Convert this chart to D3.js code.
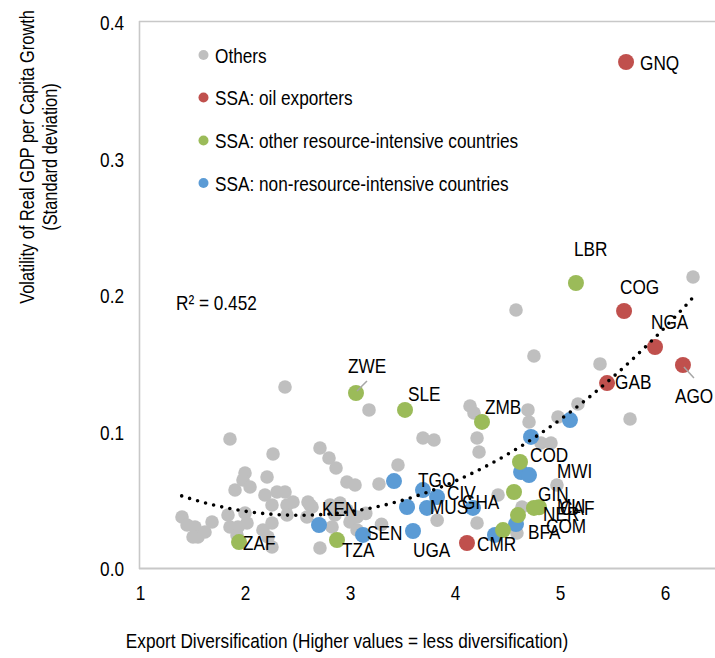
<!DOCTYPE html>
<html>
<head>
<meta charset="utf-8">
<script src="https://cdn.jsdelivr.net/npm/d3@7/dist/d3.min.js"></script>
<style>
  html, body { margin: 0; padding: 0; background: #ffffff; }
  svg { display: block; }
  text { font-family: "Liberation Sans", Arial, sans-serif; fill: #000; }
</style>
</head>
<body>
<svg id="chart" width="715" height="658"></svg>
<script>
// ---------------- DATA ----------------
const xTicks = [1, 2, 3, 4, 5, 6];
const yTicks = [0.0, 0.1, 0.2, 0.3, 0.4];
const xTitle = "Export Diversification (Higher values = less diversification)";
const yTitle1 = "Volatility of Real GDP per Capita Growth";
const yTitle2 = "(Standard deviation)";
const legendLabels = ["Others", "SSA: oil exporters", "SSA: other resource-intensive countries", "SSA: non-resource-intensive countries"];
const r2Label = "R\u00B2 = 0.452";
// polynomial trend (order 2): y = a x^2 + b x + c, drawn from xmin to xmax
const trendCoef = [0.01134, -0.05706, 0.1104];
const trendRange = [1.397, 6.264];

const othersX = [2.381,3.181,1.857,2.267,2.714,2.800,2.867,4.581,4.752,5.381,6.267,5.667,5.171,4.981,4.143,4.181,3.695,3.800,4.210,4.229,
  4.695,4.705,4.914,4.819,3.457,2.971,3.048,3.276,2.000,1.981,1.905,2.048,2.210,2.190,2.305,2.381,2.257,2.400,2.619,2.810,
  1.400,1.448,1.524,1.552,1.619,1.686,1.505,1.838,1.857,1.933,2.000,2.019,1.924,2.171,2.257,2.219,2.257,2.400,2.457,2.600,
  2.638,2.905,2.971,3.067,3.000,2.857,2.590,2.829,2.714,3.067,4.410,4.210,4.638,4.590,4.971,3.830,3.300,3.150];
const othersY = [0.1326,0.1158,0.0945,0.0835,0.0879,0.0806,0.0733,0.1890,0.1553,0.1495,0.2132,0.1092,0.1201,0.1106,0.1187,0.1136,0.0952,0.0938,0.0952,0.0850,
  0.1158,0.1070,0.0916,0.0916,0.0755,0.0630,0.0608,0.0615,0.0696,0.0645,0.0571,0.0593,0.0667,0.0535,0.0557,0.0557,0.0462,0.0462,0.0462,0.0462,
  0.0374,0.0315,0.0300,0.0227,0.0264,0.0337,0.0227,0.0388,0.0300,0.0300,0.0403,0.0330,0.0242,0.0278,0.0330,0.0227,0.0154,0.0388,0.0484,0.0484,
  0.0447,0.0476,0.0425,0.0374,0.0337,0.0388,0.0374,0.0300,0.0147,0.0278,0.0535,0.0330,0.0447,0.0256,0.0608,0.0350,0.0320,0.0400];

const oilCodes = ["GNQ","COG","NGA","AGO","GAB","CMR"];
const oilX = [5.629,5.610,5.905,6.171,5.448,4.114];
const oilY = [0.3707,0.1883,0.1619,0.1487,0.1355,0.0183];

const resCodes = ["LBR","ZWE","SLE","ZMB","COD","GIN","CAF","MLI","NER","BFA","ZAF","TZA"];
const resX = [5.152,3.057,3.524,4.257,4.619,4.562,4.800,4.752,4.600,4.457,1.943,2.876];
const resY = [0.2088,0.1282,0.1158,0.1070,0.0777,0.0557,0.0445,0.0440,0.0388,0.0278,0.0190,0.0205];

const nonCodes = ["KEN","SEN","UGA","TGO","CIV","GHA","MUS","","","","","","MWI","COM",""];
const nonX = [2.705,3.124,3.600,3.419,3.695,3.829,3.543,3.733,4.171,4.724,5.095,4.629,4.705,4.581,4.381];
const nonY = [0.0315,0.0242,0.0271,0.0637,0.0571,0.0520,0.0447,0.0440,0.0440,0.0960,0.1084,0.0703,0.0681,0.0322,0.0242];

// ---------------- LAYOUT ----------------
const W = 715, H = 658;
const COLORS = { others: "#bfbfbf", oil: "#c0504d", res: "#9bbb59", non: "#5b9bd5" };
const NARROW = 0.82;          // horizontal squeeze to mimic a narrow face
const FS = 21;
// label placement (dx, dy from marker centre to text start / baseline)
const labelPos = {
  GNQ:[14,8], LBR:[-2,-27], COG:[-4,-17], NGA:[-4,-18], AGO:[-8,38], GAB:[8,6],
  ZWE:[-8,-20], SLE:[3,-9], ZMB:[3,-8], COD:[10,0], GIN:[24,9], CAF:[21,8], MLI:[23,5], NER:[25,6],
  BFA:[25,9], ZAF:[4,8], TZA:[5,17], CMR:[10,8],
  KEN:[3,-9], SEN:[4,5], UGA:[0,26], TGO:[24,6], CIV:[24,10], GHA:[25,12], MUS:[23,7],
  MWI:[28,3], COM:[30,9]
};
const leaders = { AGO:[[1,2],[11,13]], ZWE:[[1,-2],[11,-12]] };

const svg = d3.select("#chart");
const x = d3.scaleLinear().domain([1, 7]).range([140, 770]);
const y = d3.scaleLinear().domain([0, 0.4]).range([568, 22]);

function ntext(g, px, py, s, size, anchor, rot) {
  return g.append("text")
    .attr("transform", `translate(${px},${py})` + (rot ? ` rotate(${rot})` : "") + ` scale(${NARROW},1)`)
    .attr("text-anchor", anchor || "start")
    .style("font-size", size + "px")
    .text(s);
}

// frame
svg.append("line").attr("x1", 139.5).attr("x2", 139.5).attr("y1", 21).attr("y2", 569)
  .attr("stroke", "#c8c8c8").attr("stroke-width", 1.6);
svg.append("line").attr("x1", 139).attr("x2", W).attr("y1", 21.5).attr("y2", 21.5)
  .attr("stroke", "#c8c8c8").attr("stroke-width", 1.6);
svg.append("line").attr("x1", 139).attr("x2", W).attr("y1", 568.5).attr("y2", 568.5)
  .attr("stroke", "#c8c8c8").attr("stroke-width", 2);

// axes
const gx = svg.append("g").attr("transform", "translate(0,568)")
  .call(d3.axisBottom(x).tickValues(xTicks).tickSize(0).tickPadding(0).tickFormat(d3.format("d")));
gx.select(".domain").remove();
gx.selectAll(".tick text").attr("y", 0).attr("dy", null)
  .attr("transform", `translate(0,32) scale(${NARROW},1)`)
  .style("font-size", FS + "px").style("font-family", "Liberation Sans, Arial, sans-serif").attr("fill", "#000");

const gy = svg.append("g").attr("transform", "translate(140,0)")
  .call(d3.axisLeft(y).tickValues(yTicks).tickSize(0).tickPadding(0).tickFormat(d3.format(".1f")));
gy.select(".domain").remove();
gy.selectAll(".tick text").attr("x", 0).attr("dy", null).attr("y", 0)
  .attr("transform", `translate(-16,7.5) scale(${NARROW},1)`)
  .style("font-size", FS + "px").style("font-family", "Liberation Sans, Arial, sans-serif").attr("fill", "#000");

// titles
ntext(svg, 347, 648, xTitle, 21, "middle");
ntext(svg, 34, 157, yTitle1, 20, "middle", -90);
ntext(svg, 57, 157, yTitle2, 20, "middle", -90);

// points
const gOthers = svg.append("g");
gOthers.selectAll("circle").data(d3.range(othersX.length)).join("circle")
  .attr("cx", i => x(othersX[i])).attr("cy", i => y(othersY[i])).attr("r", 6.8)
  .attr("fill", COLORS.others);

function series(codes, xs, ys, color) {
  const g = svg.append("g");
  g.selectAll("circle").data(d3.range(xs.length)).join("circle")
    .attr("cx", i => x(xs[i])).attr("cy", i => y(ys[i])).attr("r", 8)
    .attr("fill", color);
  return codes.map((c, i) => ({ code: c, px: x(xs[i]), py: y(ys[i]) }));
}
const labelled = [].concat(
  series(nonCodes, nonX, nonY, COLORS.non),
  series(resCodes, resX, resY, COLORS.res),
  series(oilCodes, oilX, oilY, COLORS.oil)
);

// trend line
const tx = d3.range(0, 101).map(k => trendRange[0] + (trendRange[1] - trendRange[0]) * k / 100);
const trend = d3.line().x(v => x(v)).y(v => y(trendCoef[0] * v * v + trendCoef[1] * v + trendCoef[2]));
svg.append("path").attr("d", trend(tx)).attr("fill", "none").attr("stroke", "#000")
  .attr("stroke-width", 3.6).attr("stroke-linecap", "round").attr("stroke-dasharray", "0 8.3");

// leader lines and labels
const gl = svg.append("g");
labelled.forEach(d => {
  if (!d.code) return;
  if (leaders[d.code]) {
    const l = leaders[d.code];
    gl.append("line").attr("x1", d.px + l[0][0]).attr("y1", d.py + l[0][1])
      .attr("x2", d.px + l[1][0]).attr("y2", d.py + l[1][1])
      .attr("stroke", "#a6a6a6").attr("stroke-width", 1.5);
  }
  const o = labelPos[d.code] || [12, 7];
  ntext(gl, d.px + o[0], d.py + o[1], d.code, FS, "start");
});

// R2
ntext(svg, 176, 310, r2Label, FS, "start");

// legend
const legColors = [COLORS.others, COLORS.oil, COLORS.res, COLORS.non];
const legY = [55, 97.5, 140.5, 183];
legendLabels.forEach((s, i) => {
  svg.append("circle").attr("cx", 203.5).attr("cy", legY[i]).attr("r", 5).attr("fill", legColors[i]);
  ntext(svg, 215, legY[i] + 7.5, s, FS, "start");
});
</script>
</body>
</html>
